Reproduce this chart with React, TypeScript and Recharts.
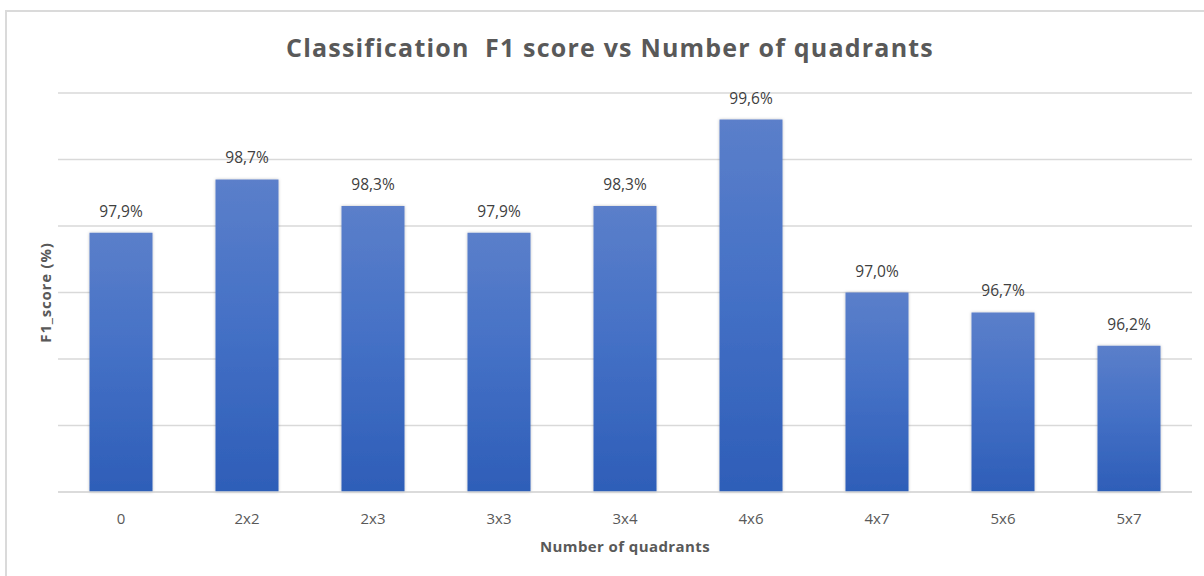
import React from 'react';
import { BarChart, Bar, XAxis, YAxis, CartesianGrid, LabelList, Label } from 'recharts';

const categories = ['0', '2x2', '2x3', '3x3', '3x4', '4x6', '4x7', '5x6', '5x7'];
const f1Values = [97.9, 98.7, 98.3, 97.9, 98.3, 99.6, 97.0, 96.7, 96.2];
const yTicks = [94, 95, 96, 97, 98, 99, 100];

const data = categories.map((c, i) => ({ name: c, value: f1Values[i] }));

const FONT = '"Open Sans", "Noto Sans", sans-serif';

const fmt = (v: number) => v.toFixed(1).replace('.', ',') + '%';

const EmptyTick = () => <g />;

export default function App() {
  return (
    <div style={{ position: 'absolute', left: 0, top: 0, width: 1204, height: 576, background: '#fff', fontFamily: FONT }}>
      <div
        style={{
          position: 'absolute',
          left: 5,
          top: 10,
          width: 1199,
          height: 566,
          borderTop: '2px solid #dadada',
          borderLeft: '2px solid #dadada',
          boxSizing: 'border-box',
        }}
      />
      <div
        style={{
          position: 'absolute',
          left: 0,
          width: 1220,
          top: 30,
          textAlign: 'center',
          fontSize: 25,
          fontWeight: 700,
          letterSpacing: 1.2,
          color: '#595959',
          lineHeight: '34px',
          whiteSpace: 'pre',
        }}
      >
        {'Classification  F1 score vs Number of quadrants'}
      </div>
      <div style={{ position: 'absolute', left: 0, top: 0 }}>
        <BarChart
          width={1204}
          height={576}
          data={data}
          margin={{ top: 93, right: 12, left: 0, bottom: 0 }}
          barCategoryGap="25%"
        >
          <defs>
            <linearGradient id="barGrad" x1="0" y1="0" x2="0" y2="1">
              <stop offset="0%" stopColor="#5b7fca" />
              <stop offset="45%" stopColor="#4571c6" />
              <stop offset="100%" stopColor="#2e5eb8" />
            </linearGradient>
            <filter id="barShadow" x="-10%" y="-5%" width="120%" height="110%">
              <feDropShadow dx="0" dy="0" stdDeviation="1.5" floodColor="#000" floodOpacity="0.25" />
            </filter>
          </defs>
          <CartesianGrid horizontal vertical={false} stroke="#d9d9d9" strokeWidth={1.3} />
          <XAxis
            dataKey="name"
            height={84}
            axisLine={{ stroke: '#d9d9d9', strokeWidth: 1.3 }}
            tickLine={false}
            tickMargin={15}
            tick={{ fill: '#595959', fontSize: 15, fontFamily: FONT }}
            interval={0}
          >
            <Label
              content={(props: any) => {
                const vb = props.viewBox;
                return (
                  <text
                    x={vb.x + vb.width / 2}
                    y={vb.y + 60}
                    textAnchor="middle"
                    fill="#595959"
                    fontSize={15}
                    fontWeight={700}
                    letterSpacing={0.4}
                    fontFamily={FONT}
                  >
                    Number of quadrants
                  </text>
                );
              }}
            />
          </XAxis>
          <YAxis
            width={58}
            domain={[94, 100]}
            ticks={yTicks}
            tick={EmptyTick}
            axisLine={false}
            tickLine={false}
          >
            <Label
              content={(props: any) => {
                const vb = props.viewBox;
                const x = vb.x + 51;
                const y = vb.y + vb.height / 2;
                return (
                  <text
                    x={x}
                    y={y}
                    transform={`rotate(-90, ${x}, ${y})`}
                    textAnchor="middle"
                    fill="#595959"
                    fontSize={15}
                    fontWeight={700}
                    letterSpacing={0.8}
                    fontFamily={FONT}
                  >
                    F1_score (%)
                  </text>
                );
              }}
            />
          </YAxis>
          <Bar dataKey="value" fill="url(#barGrad)" isAnimationActive={false} style={{ filter: 'url(#barShadow)' }}>
            <LabelList
              dataKey="value"
              position="top"
              offset={16}
              formatter={(v: any) => fmt(Number(v))}
              fill="#404040"
              fontSize={15.5}
              fontFamily={FONT}
            />
          </Bar>
        </BarChart>
      </div>
    </div>
  );
}
